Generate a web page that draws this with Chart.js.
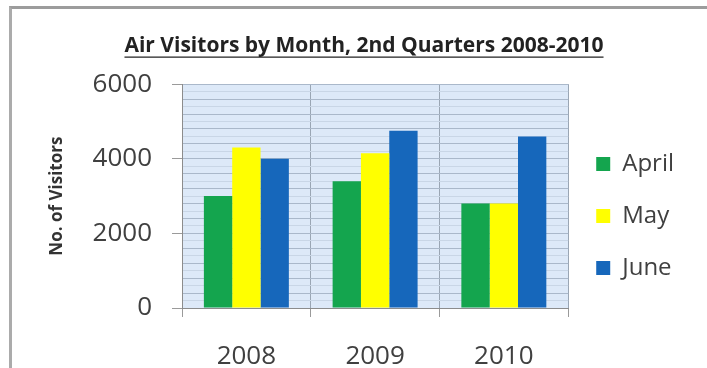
<!DOCTYPE html>
<html><head><meta charset="utf-8">
<script src="https://cdn.jsdelivr.net/npm/chart.js@4.4.1/dist/chart.umd.min.js"></script>
<style>
html,body{margin:0;padding:0;background:#fff;}
#wrap{position:relative;width:707px;height:368px;overflow:hidden;}
#frame{position:absolute;left:9px;top:6px;width:800px;height:400px;border-top:3px solid #9c9c9c;border-left:3px solid #ababab;box-sizing:border-box;}
canvas{position:absolute;left:0;top:0;}
</style></head><body>
<div id="wrap"><div id="frame"></div><canvas id="c" width="707" height="368"></canvas></div>
<script>
const categories = ['2008', '2009', '2010'];
const seriesNames = ['April', 'May', 'June'];
const april = [3000, 3400, 2800];
const may = [4300, 4150, 2800];
const june = [4000, 4750, 4600];
const yMajorTicks = [0, 2000, 4000, 6000];
const titleText = 'Air Visitors by Month, 2nd Quarters 2008-2010';
const yTitle = 'No. of Visitors';

const FONT = '"Open Sans", Lato, sans-serif';
const TXT = '#404040';

const plotBg = {
  id: 'plotBg',
  beforeDraw(chart) {
    const {ctx, chartArea: a} = chart;
    ctx.save();
    ctx.fillStyle = '#dde9f8';
    ctx.fillRect(a.left, a.top, a.right - a.left, a.bottom - a.top);
    ctx.restore();
  }
};
const titleUnderline = {
  id: 'titleUnderline',
  afterDraw(chart) {
    const t = chart.titleBlock;
    if (!t) return;
    const {ctx} = chart;
    const f = Chart.helpers.toFont(chart.options.plugins.title.font);
    ctx.save();
    ctx.font = f.string;
    const w = ctx.measureText(titleText).width;
    const cx = (t.left + t.right) / 2;
    const pad = Chart.helpers.toPadding(chart.options.plugins.title.padding);
    const y = t.top + pad.top + f.lineHeight / 2 + f.size * 0.55;
    ctx.strokeStyle = '#222';
    ctx.lineWidth = 1.4;
    ctx.beginPath();
    ctx.moveTo(cx - w / 2, y);
    ctx.lineTo(cx + w / 2, y);
    ctx.stroke();
    ctx.restore();
  }
};

new Chart(document.getElementById('c'), {
  type: 'bar',
  data: {
    labels: categories,
    datasets: [
      {label: seriesNames[0], data: april, backgroundColor: '#14a54e', borderWidth: 0},
      {label: seriesNames[1], data: may, backgroundColor: '#ffff00', borderWidth: 0},
      {label: seriesNames[2], data: june, backgroundColor: '#1667bb', borderWidth: 0}
    ]
  },
  options: {
    responsive: false,
    devicePixelRatio: 1,
    animation: false,
    layout: {padding: {left: 44, right: 23, top: 0, bottom: 0}},
    datasets: {bar: {categoryPercentage: 0.66, barPercentage: 1.0}},
    plugins: {
      title: {
        display: true, text: titleText, color: '#222',
        font: {family: FONT, size: 21, weight: 'bold', lineHeight: 1.2},
        padding: {top: 33, bottom: 26}
      },
      legend: {
        display: true, position: 'right', align: 'end', fullSize: false,
        labels: {
          color: TXT, font: {family: FONT, size: 24},
          boxWidth: 14, boxHeight: 14, padding: 28
        }
      },
      tooltip: {enabled: false}
    },
    scales: {
      x: {
        afterFit(scale) { scale.height = 60; },
        grid: {display: true, offset: true, color: '#9aa6b4', tickColor: '#9a9a9a', tickLength: 9, lineWidth: 1},
        border: {display: true, color: '#8c8c8c', width: 1},
        ticks: {color: TXT, font: {family: FONT, size: 26}, padding: 24}
      },
      y: {
        min: 0, max: 6000,
        afterFit(scale) { scale.width = 138; },
        afterBuildTicks(scale) {
          const t = [];
          for (let v = 0; v <= 6000; v += 200) t.push({value: v});
          scale.ticks = t;
        },
        grid: {
          color: (c) => (c.tick && c.tick.value % 400 === 0) ? '#aab8ca' : '#c9d6e6',
          tickColor: (c) => (c.tick && yMajorTicks.includes(c.tick.value)) ? '#9a9a9a' : 'rgba(0,0,0,0)',
          tickLength: 10, lineWidth: 1
        },
        border: {display: true, color: '#8c8c8c', width: 1},
        ticks: {
          autoSkip: false,
          color: TXT, font: {family: FONT, size: 26}, padding: 20,
          callback: (v) => yMajorTicks.includes(v) ? String(v) : ''
        },
        title: {
          display: true, text: yTitle, color: '#333',
          font: {family: FONT, size: 17, weight: 'bold', lineHeight: 1.2},
          padding: {top: 3, bottom: 0}
        }
      }
    }
  },
  plugins: [plotBg, titleUnderline]
});
</script>
</body></html>
